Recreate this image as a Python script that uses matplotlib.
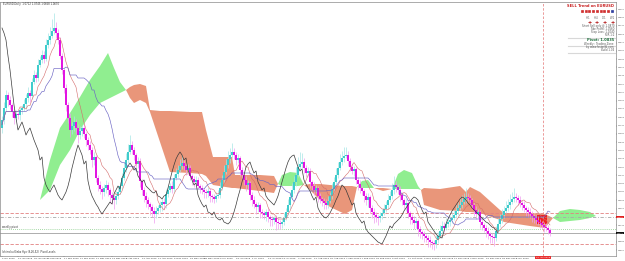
import numpy as np
import pandas as pd
import matplotlib
matplotlib.use("Agg")
import matplotlib.pyplot as plt
from matplotlib.patches import Rectangle

# ---------------- data ----------------
first_open = 1.172
close = [
 1.180,1.192,1.205,1.200,1.195,1.188,1.182,1.186,1.185,1.190,
 1.192,1.196,1.202,1.207,1.204,1.218,1.225,1.222,1.235,1.240,
 1.245,1.241,1.255,1.260,1.264,1.269,1.272,1.267,1.260,1.244,
 1.230,1.212,1.195,1.182,1.170,1.174,1.178,1.172,1.165,1.169,
 1.172,1.166,1.160,1.155,1.150,1.140,1.143,1.122,1.115,1.111,
 1.108,1.112,1.115,1.110,1.105,1.102,1.100,1.104,1.108,1.114,
 1.122,1.132,1.140,1.148,1.155,1.150,1.145,1.136,1.139,1.119,
 1.110,1.104,1.100,1.096,1.093,1.089,1.086,1.089,1.092,1.095,
 1.098,1.096,1.106,1.110,1.114,1.111,1.122,1.126,1.130,1.134,
 1.137,1.134,1.130,1.132,1.124,1.121,1.118,1.120,1.114,1.112,
 1.110,1.108,1.107,1.109,1.104,1.103,1.101,1.104,1.105,1.112,
 1.120,1.128,1.135,1.141,1.145,1.148,1.145,1.140,1.142,1.130,
 1.125,1.120,1.115,1.117,1.105,1.100,1.096,1.093,1.095,1.088,
 1.087,1.085,1.088,1.083,1.081,1.080,1.082,1.078,1.077,1.076,
 1.078,1.082,1.088,1.095,1.103,1.110,1.118,1.125,1.133,1.136,
 1.138,1.132,1.127,1.129,1.118,1.114,1.110,1.112,1.104,1.101,
 1.099,1.097,1.095,1.099,1.104,1.111,1.118,1.125,1.132,1.138,
 1.142,1.144,1.145,1.139,1.133,1.129,1.131,1.120,1.116,1.112,
 1.109,1.104,1.100,1.103,1.092,1.088,1.085,1.083,1.082,1.084,
 1.087,1.091,1.095,1.100,1.104,1.110,1.115,1.113,1.110,1.105,
 1.100,1.095,1.097,1.087,1.083,1.080,1.077,1.079,1.071,1.068,
 1.066,1.064,1.062,1.060,1.058,1.057,1.056,1.060,1.064,1.069,
 1.074,1.072,1.076,1.078,1.080,1.082,1.085,1.089,1.092,1.095,
 1.098,1.101,1.103,1.102,1.100,1.095,1.090,1.086,1.088,1.078,
 1.075,1.072,1.069,1.066,1.064,1.063,1.062,1.069,1.076,1.081,
 1.085,1.089,1.092,1.095,1.098,1.101,1.103,1.102,1.100,1.097,
 1.095,1.092,1.090,1.088,1.086,1.084,1.082,1.080,1.078,1.077,
 1.075,1.073,1.072,1.070,1.067]

wick_up = [
 .004,.006,.005,.003,.004,.002,.003,.004,.002,.003,
 .003,.005,.004,.006,.003,.004,.005,.003,.006,.004,
 .005,.004,.006,.007,.009,.012,.015,.006,.004,.003,
 .003,.002,.004,.003,.005,.004,.006,.003,.004,.005,
 .003,.004,.002,.003,.004,.003,.005,.002,.003,.004,
 .003,.004,.005,.003,.002,.003,.004,.005,.006,.004,
 .005,.006,.007,.008,.010,.004,.003,.002,.004,.003,
 .002,.003,.004,.003,.002,.003,.004,.005,.003,.004,
 .003,.004,.005,.004,.003,.005,.004,.006,.005,.007,
 .008,.004,.003,.004,.003,.002,.003,.004,.003,.002,
 .003,.002,.003,.004,.003,.002,.003,.004,.005,.006,
 .005,.007,.006,.008,.007,.009,.004,.003,.004,.002,
 .003,.002,.004,.003,.002,.003,.004,.002,.003,.002,
 .003,.002,.003,.004,.002,.003,.002,.003,.004,.003,
 .004,.005,.004,.006,.005,.007,.006,.008,.010,.012,
 .009,.004,.003,.004,.003,.002,.004,.003,.002,.003,
 .002,.003,.004,.005,.004,.006,.005,.007,.006,.008,
 .007,.009,.008,.004,.003,.004,.003,.002,.003,.004,
 .003,.002,.003,.004,.002,.003,.004,.003,.002,.004,
 .004,.005,.004,.006,.005,.007,.009,.004,.003,.004,
 .003,.002,.004,.003,.002,.003,.004,.003,.002,.003,
 .002,.003,.002,.003,.004,.002,.003,.005,.004,.006,
 .005,.004,.006,.005,.004,.006,.005,.007,.006,.008,
 .007,.006,.009,.004,.003,.002,.003,.004,.003,.002,
 .003,.002,.003,.004,.002,.003,.004,.005,.006,.005,
 .006,.005,.007,.006,.008,.007,.009,.004,.003,.004,
 .003,.004,.002,.003,.004,.003,.002,.003,.004,.003,
 .002,.003,.004,.003,.002]

wick_dn = [
 .005,.004,.003,.006,.004,.005,.006,.003,.004,.005,
 .004,.003,.005,.004,.006,.003,.002,.004,.003,.002,
 .003,.004,.002,.003,.004,.002,.003,.005,.004,.003,
 .004,.005,.006,.005,.007,.004,.005,.006,.008,.004,
 .005,.004,.006,.005,.004,.007,.005,.004,.006,.005,
 .007,.004,.005,.006,.008,.006,.009,.004,.003,.002,
 .003,.002,.004,.003,.002,.004,.005,.003,.004,.006,
 .005,.006,.007,.005,.008,.006,.009,.004,.003,.004,
 .006,.005,.004,.003,.002,.004,.003,.002,.003,.002,
 .003,.004,.005,.003,.004,.006,.005,.004,.003,.005,
 .004,.006,.005,.004,.006,.005,.004,.003,.002,.003,
 .002,.003,.002,.003,.004,.003,.004,.005,.003,.006,
 .004,.005,.006,.004,.005,.006,.004,.007,.005,.006,
 .005,.004,.006,.005,.007,.006,.004,.008,.006,.005,
 .004,.003,.002,.003,.004,.002,.003,.004,.002,.003,
 .004,.005,.004,.003,.006,.004,.005,.003,.006,.004,
 .005,.006,.004,.003,.002,.003,.004,.002,.003,.002,
 .003,.004,.002,.005,.004,.003,.005,.004,.006,.005,
 .004,.006,.005,.007,.005,.006,.008,.005,.007,.004,
 .003,.002,.003,.004,.002,.003,.004,.005,.004,.006,
 .005,.004,.006,.005,.007,.004,.006,.005,.007,.006,
 .005,.006,.004,.007,.005,.006,.006,.004,.003,.002,
 .003,.004,.002,.003,.004,.003,.002,.003,.004,.002,
 .003,.002,.004,.003,.005,.004,.006,.005,.004,.006,
 .005,.004,.006,.005,.007,.006,.008,.003,.002,.003,
 .004,.003,.002,.003,.004,.002,.003,.004,.005,.004,
 .005,.004,.006,.005,.004,.006,.005,.004,.003,.005,
 .004,.005,.003,.004,.003]

# Ichimoku cloud (senkou spans, already shifted forward) at bar positions
cloud_i = [19, 24, 29, 34, 39, 44, 49, 53, 56, 59, 62,
           64, 66, 69, 72, 74, 79, 84, 94, 100, 102, 105.5, 115, 116.5, 129, 136, 138,
           140, 144, 148, 151,
           154, 159, 164, 171.5, 175, 177.5,
           180, 183, 186,
           190.5, 195,
           198, 201, 205, 208, 209.5,
           211, 219, 229, 232, 234, 239, 249, 251, 264, 271.5, 275.5,
           279, 284, 289, 294, 297]
span_a = [1.100, 1.140, 1.172, 1.187, 1.203, 1.220, 1.234, 1.247, 1.232, 1.218, 1.210,
          1.202, 1.197, 1.200, 1.197, 1.188, 1.158, 1.128, 1.127, 1.126, 1.124, 1.115, 1.112, 1.112, 1.109, 1.107, 1.116,
          1.125, 1.128, 1.127, 1.115,
          1.110, 1.100, 1.093, 1.086, 1.090, 1.113,
          1.119, 1.120, 1.112,
          1.109, 1.111,
          1.126, 1.130, 1.127, 1.114, 1.110,
          1.095, 1.090, 1.089, 1.088, 1.088, 1.087, 1.080, 1.078, 1.074, 1.072, 1.082,
          1.089, 1.091, 1.090, 1.088, 1.084]
span_b = [1.100, 1.110, 1.135, 1.150, 1.170, 1.185, 1.197, 1.201, 1.204, 1.207, 1.210,
          1.213, 1.215, 1.216, 1.214, 1.190, 1.189, 1.189, 1.188, 1.188, 1.170, 1.143, 1.143, 1.125, 1.125, 1.124, 1.116,
          1.114, 1.114, 1.114, 1.115,
          1.116, 1.116, 1.115, 1.114, 1.114, 1.113,
          1.112, 1.112, 1.112,
          1.112, 1.111,
          1.111, 1.111, 1.111, 1.111, 1.110,
          1.112, 1.111, 1.114, 1.108, 1.113, 1.108, 1.090, 1.087, 1.087, 1.086, 1.082,
          1.078, 1.079, 1.080, 1.082, 1.084]

# red signal block near the last bars
signal_i = [267.5, 272.5]
signal_top = [1.085, 1.085]
signal_bot = [1.076, 1.076]

# horizontal levels
level_prices = [1.087, 1.083, 1.071, 1.067, 1.056]
ask_price = 1.0830
bid_price = 1.0670
now_bar = 270.5

price_ticks = [1.0500, 1.0583, 1.0666, 1.0749, 1.0832, 1.0915, 1.0998, 1.1081, 1.1164, 1.1247,
               1.1330, 1.1413, 1.1496, 1.1579, 1.1662, 1.1745, 1.1828, 1.1911, 1.1994, 1.2077,
               1.2160, 1.2243, 1.2326, 1.2409, 1.2492, 1.2575, 1.2658, 1.2741, 1.2824, 1.2907]

date_labels = ['2 Jan 2015', '14 Jan 2015', '26 Jan 2015', '5 Feb 2015', '17 Feb 2015', '27 Feb 2015',
               '11 Mar 2015', '23 Mar 2015', '2 Apr 2015', '14 Apr 2015', '24 Apr 2015', '6 May 2015',
               '18 May 2015', '28 May 2015', '9 Jun 2015', '19 Jun 2015', '1 Jul 2015', '13 Jul 2015',
               '23 Jul 2015', '4 Aug 2015', '14 Aug 2015', '26 Aug 2015', '7 Sep 2015', '17 Sep 2015',
               '29 Sep 2015', '9 Oct 2015', '21 Oct 2015', '2 Nov 2015', '12 Nov 2015', '24 Nov 2015',
               '4 Dec 2015', '16 Dec 2015', '28 Dec 2015', '7 Jan 2016']
date_bars = [0, 8, 16, 23, 31, 39, 47, 55, 62, 70, 78, 86, 94, 101, 109, 117, 125, 133,
             140, 148, 156, 164, 172, 179, 187, 195, 203, 211, 218, 226, 234, 242, 250, 257]
now_label = '15 Jan 2016'

panel_lines = ['Short Sell only @ 1.0870', 'Take Profit: 1.0560', 'Stop Loss: 1.1040', 'R/R 1:2']
panel_lines2 = ['Weekly : Trading Zone', 'by www.fxsignal.com', 'build 1.04']

# ---------------- derived OHLC / indicators ----------------
c = np.array(close)
o = np.r_[first_open, c[:-1]]
h = np.maximum(o, c) + np.array(wick_up)
l = np.minimum(o, c) - np.array(wick_dn)
idx = np.arange(len(c))
hs, ls_ = pd.Series(h), pd.Series(l)
tenkan = (hs.rolling(9, min_periods=1).max() + ls_.rolling(9, min_periods=1).min()) / 2
kijun = (hs.rolling(26, min_periods=1).max() + ls_.rolling(26, min_periods=1).min()) / 2

# ---------------- figure ----------------
W, H = 625, 261
fig = plt.figure(figsize=(W / 100, H / 100), dpi=100)
fig.patch.set_facecolor('white')
ax = fig.add_axes([0, 5 / H, 616 / W, 254 / H])
ax.set_xlim(-1, 307)
ax.set_ylim(1.044, 1.298)
for s in ax.spines.values():
    s.set_color('#8a8a8a')
    s.set_linewidth(0.5)

A = np.array(span_a); B = np.array(span_b); ci = np.array(cloud_i)
ax.fill_between(ci, A, B, where=A >= B, interpolate=True, color='#90ee90', lw=0, zorder=1)
ax.fill_between(ci, A, B, where=A <= B, interpolate=True, color='#e9967a', lw=0, zorder=1)
ax.fill_between(signal_i, signal_bot, signal_top, color='#f02020', lw=0, zorder=1.5)

lv_styles = [('#e28080', (0, (4, 2))), ('#a8a8a8', (0, (4, 2, 1, 2))), ('#88cc88', (0, (1, 1.5))),
             ('#a0a0a0', '-'), ('#e28080', (0, (4, 2)))]
for p, (col, ls) in zip(level_prices, lv_styles):
    ax.axhline(p, color=col, lw=0.6, ls=ls, zorder=2)
ax.axvline(now_bar, color='#e88a8a', lw=0.6, ls=(0, (3, 2)), zorder=2)

up = c >= o
ax.vlines(idx, l, h, colors=np.where(up, '#a6e6e6', '#f09cf0'), lw=0.5, zorder=2.5)
body = np.maximum(np.abs(c - o), 0.0007)
ax.bar(idx, body, bottom=np.minimum(o, c), width=0.6,
       color=np.where(up, '#3fcccc', '#e214e2'), lw=0, zorder=3)

ax.plot(idx, tenkan, color='#d46a6a', lw=0.4, zorder=4)
ax.plot(idx, kijun, color='#6b64c4', lw=0.45, zorder=4)
ax.plot(idx[:-26], c[26:], color='#3a3a3a', lw=0.5, zorder=4)

# axes ticks
ax.yaxis.tick_right()
ax.set_yticks(price_ticks)
ax.set_yticklabels([f'{p:.4f}' for p in price_ticks])
ax.tick_params(axis='y', labelsize=1.4, length=0.8, width=0.3, pad=0.3, colors='#333333')
ax.set_xticks(date_bars)
ax.set_xticklabels(date_labels)
ax.tick_params(axis='x', labelsize=1.7, length=1.0, width=0.3, pad=0.4, colors='#333333')
for t in ax.get_xticklabels():
    t.set_ha('left')

ax.text(now_bar, -0.004, now_label, transform=ax.get_xaxis_transform(), ha='center', va='top',
        fontsize=1.7, color='white', bbox=dict(fc='#e83030', ec='none', pad=0.6), clip_on=False)
ax.text(1.0015, ask_price, f'{ask_price:.4f}', transform=ax.get_yaxis_transform(), ha='left', va='center',
        fontsize=1.4, color='white', bbox=dict(fc='#e02020', ec='none', pad=0.35), clip_on=False, zorder=6)
ax.text(1.0015, bid_price, f'{bid_price:.4f}', transform=ax.get_yaxis_transform(), ha='left', va='center',
        fontsize=1.4, color='white', bbox=dict(fc='#111111', ec='none', pad=0.35), clip_on=False, zorder=6)

def fx(x):
    return x / W

def fy(y):
    return 1 - y / H

fig.text(fx(3), fy(3.5), 'EURUSD,Daily  1.0712 1.0745 1.0668 1.0670', fontsize=1.8, color='#303030', va='center')
fig.text(fx(2), fy(227), 'weekly pivot', fontsize=1.8, color='#303030', va='center')
fig.text(fx(2), fy(252.5), 'Ichimoku Kinko Hyo (9,26,52)  Pivot Levels', fontsize=1.8, color='#303030', va='center')

# info panel
fig.text(fx(614), fy(6), 'SELL Trend on EURUSD', fontsize=2.6, color='#c81e1e', weight='bold', ha='right', va='center')
sq_cols = ['#d03030'] * 8 + ['#3040a0']
for k, col in enumerate(sq_cols):
    fig.add_artist(Rectangle((fx(581 + k * 3.7), fy(13)), fx(3.0), 3 / H, transform=fig.transFigure,
                             fc=col, ec='white', lw=0.2))
fig.text(fx(614), fy(18), 'H1     H4     D1     W1', fontsize=1.9, color='#606060', ha='right', va='center')
for xp in [590, 597, 605, 613]:
    fig.text(fx(xp), fy(22), '+', fontsize=3.6, color='#b01010', weight='bold', ha='center', va='center')
for k, s in enumerate(panel_lines):
    fig.text(fx(614), fy(26 + 3 * k), s, fontsize=1.9, color='#555555', ha='right', va='center')
fig.text(fx(614), fy(40), 'Pivot: 1.0835', fontsize=2.6, color='#1e6e3c', weight='bold', ha='right', va='center')
for k, s in enumerate(panel_lines2):
    fig.text(fx(614), fy(44 + 3 * k), s, fontsize=1.9, color='#555555', ha='right', va='center')
for yy in [37.5, 46, 53]:
    fig.add_artist(plt.Line2D([fx(568), fx(615)], [fy(yy), fy(yy)], transform=fig.transFigure,
                              color='#d8d8d8', lw=0.8))

fig.savefig('out.png', dpi=100)
